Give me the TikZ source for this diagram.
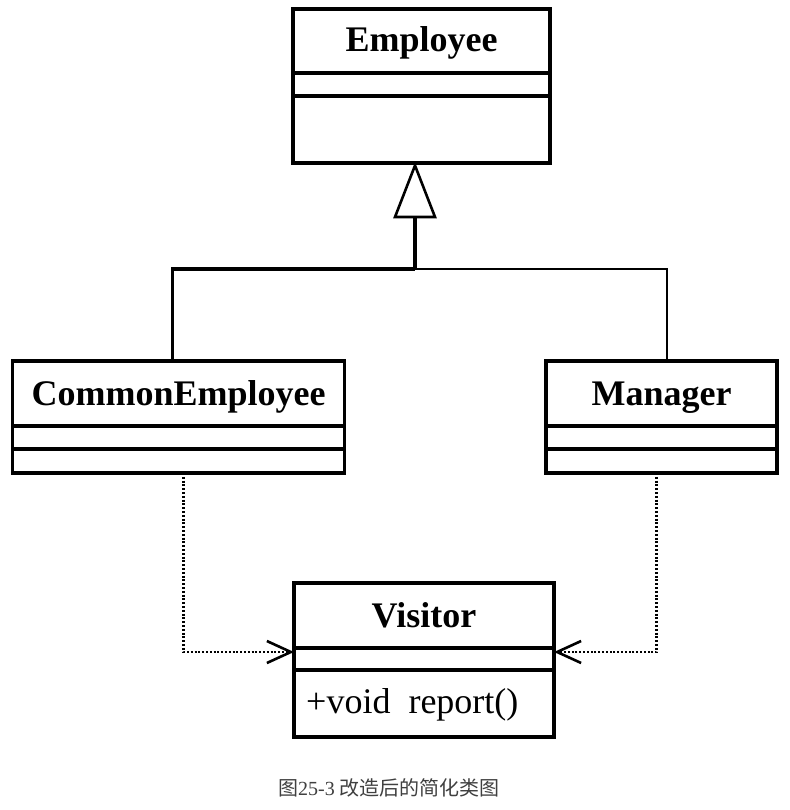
\documentclass[tikz,border=0pt]{standalone}
\usepackage{fontspec}
\setmainfont{Liberation Serif}
\newfontfamily\cjk{Noto Sans CJK SC}
\usetikzlibrary{calc,arrows.meta}
\begin{document}
\begin{tikzpicture}[x=1pt,y=-1pt,
  classbox/.style={draw,line width=3.5pt,minimum width=#1,inner sep=0pt,outer sep=0pt},
  ttl/.style={font=\bfseries\fontsize{36}{36}\selectfont,inner sep=0pt,anchor=base},
  sep/.style={line width=3.3pt},
  genline/.style={line width=3.5pt},
  genthin/.style={line width=2.2pt},
  dep/.style={line width=2.8pt,dash pattern=on 2pt off 1.8pt,-{Straight Barb[length=24pt,width=22pt,line width=2.6pt]}},
]
\useasboundingbox (0,0) rectangle (789,810);
\fill[white] (0,0) rectangle (789,810);

% Employee
\node[classbox=257pt,minimum height=154pt] (emp) at (421.5,86) {};
\node[ttl] (empt) at (421.5,52) {Employee};
\draw[sep] ($(emp.north west)+(0,64)$) -- ($(emp.north east)+(0,64)$);
\draw[sep] ($(emp.north west)+(0,87)$) -- ($(emp.north east)+(0,87)$);

% CommonEmployee
\node[classbox=332pt,minimum height=112pt] (ce) at (178.6,417) {};
\node[ttl] (cet) at (178.6,405) {CommonEmployee};
\draw[sep] ($(ce.north west)+(0,65)$) -- ($(ce.north east)+(0,65)$);
\draw[sep] ($(ce.north west)+(0,88)$) -- ($(ce.north east)+(0,88)$);

% Manager
\node[classbox=231pt,minimum height=112pt] (man) at (661.7,417) {};
\node[ttl] (mant) at (661.7,405) {Manager};
\draw[sep] ($(man.north west)+(0,65)$) -- ($(man.north east)+(0,65)$);
\draw[sep] ($(man.north west)+(0,88)$) -- ($(man.north east)+(0,88)$);

% Visitor
\node[classbox=260pt,minimum height=154pt] (vis) at (424,660) {};
\node[ttl] (vist) at (424,627) {Visitor};
\draw[sep] ($(vis.north west)+(0,65)$) -- ($(vis.north east)+(0,65)$);
\draw[sep] ($(vis.north west)+(0,87)$) -- ($(vis.north east)+(0,87)$);
\node[anchor=base west,inner sep=0pt,font=\fontsize{36}{36}\selectfont] (visop) at ($(vis.north west)+(12,130)$) {+void\ \ report()};

% generalization
\coordinate (j) at (415,269);
\draw[genline] ([xshift=-6pt]ce.north) |- (j);
\draw[genthin] ([xshift=5pt]man.north) |- (j);
\draw[genline] (j) -- (415,217);
\draw[line width=2.6pt,fill=white,line join=miter] (415,165.5) -- (435,217) -- (395,217) -- cycle;

% dependencies
\draw[dep] ([xshift=5pt]ce.south) |- ([yshift=8pt]vis.west);
\draw[dep] ([xshift=-5pt]man.south) |- ([yshift=8pt]vis.east);

% caption
\node[inner sep=0pt,text=black!75,font=\fontsize{20}{20}\selectfont] (cap) at (389,788) {{\cjk 图}25-3 {\cjk 改造后的简化类图}};
\end{tikzpicture}
\end{document}
